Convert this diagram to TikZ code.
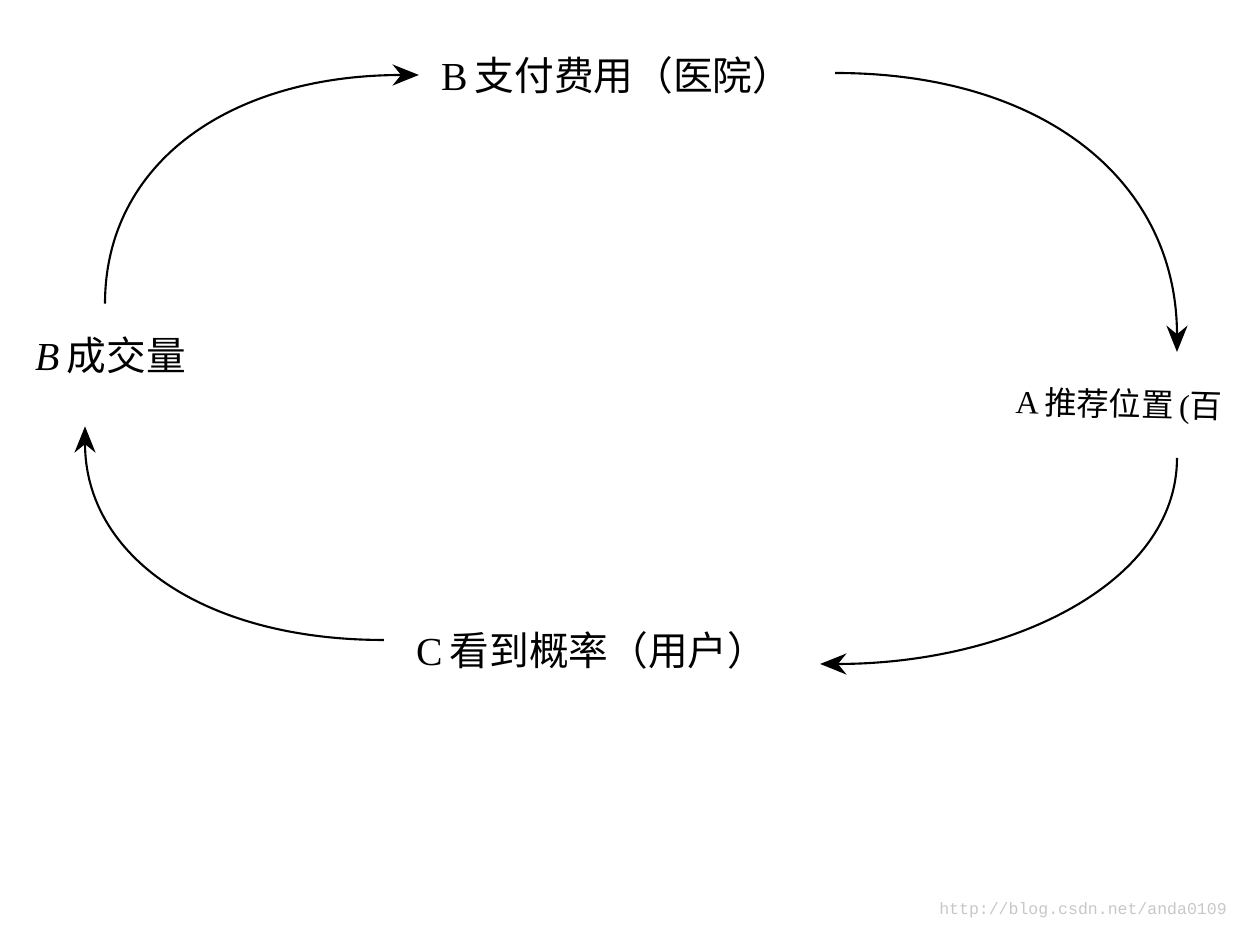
\documentclass[tikz,border=0pt]{standalone}
\usepackage{fontspec}
\setmainfont{Liberation Serif}
\newfontfamily\cjk{Noto Sans CJK SC}
\newfontfamily\wmfont{Liberation Mono}
\usetikzlibrary{arrows.meta,calc}

\begin{document}
\begin{tikzpicture}[font=\fontsize{11.3}{13}\selectfont,
  lbl/.style={inner sep=2pt},
  ar/.style={-{Stealth[length=7.5pt,width=6pt]},line width=0.6pt},
  wm/.style={font=\wmfont\fontsize{4.7}{5}\selectfont,text=black!22,inner sep=0pt}]
\useasboundingbox (0,0) rectangle (12.4,9.3);
\node[lbl] (pay) at (6.17,8.55) {B\,{\cjk 支付费用（医院）}};
\node[lbl] (deal) at (1.11,5.75) {\textit{B}\,{\cjk 成交量}};
\node[lbl,anchor=west,rotate=-1.5,font=\fontsize{9.2}{11}\selectfont] (rec) at (10.08,5.27) {A\,{\cjk 推荐位置}\,({\cjk 百}};
\node[lbl] (see) at (5.92,2.80) {C\,{\cjk 看到概率（用户）}};
\node[wm] (url) at (10.83,0.20) {http://blog.csdn.net/anda0109};
\draw[ar] ($(deal.north)+(-0.06,0.25)$) .. controls +(0,1.4) and +(-1.9,0) .. ($(pay.west)+(-0.15,0)$);
\draw[ar] ($(pay.east)+(0.35,0.02)$) .. controls +(2.1,0) and +(0,1.7) .. (11.77,5.78);
\draw[ar] (11.77,4.72) .. controls +(0,-1.25) and +(1.9,0) .. ($(see.east)+(0.45,-0.14)$);
\draw[ar] ($(see.west)+(-0.25,0.1)$) .. controls +(-1.8,0) and +(0,-1.3) .. ($(deal.south)+(-0.26,-0.45)$);
\end{tikzpicture}
\end{document}
